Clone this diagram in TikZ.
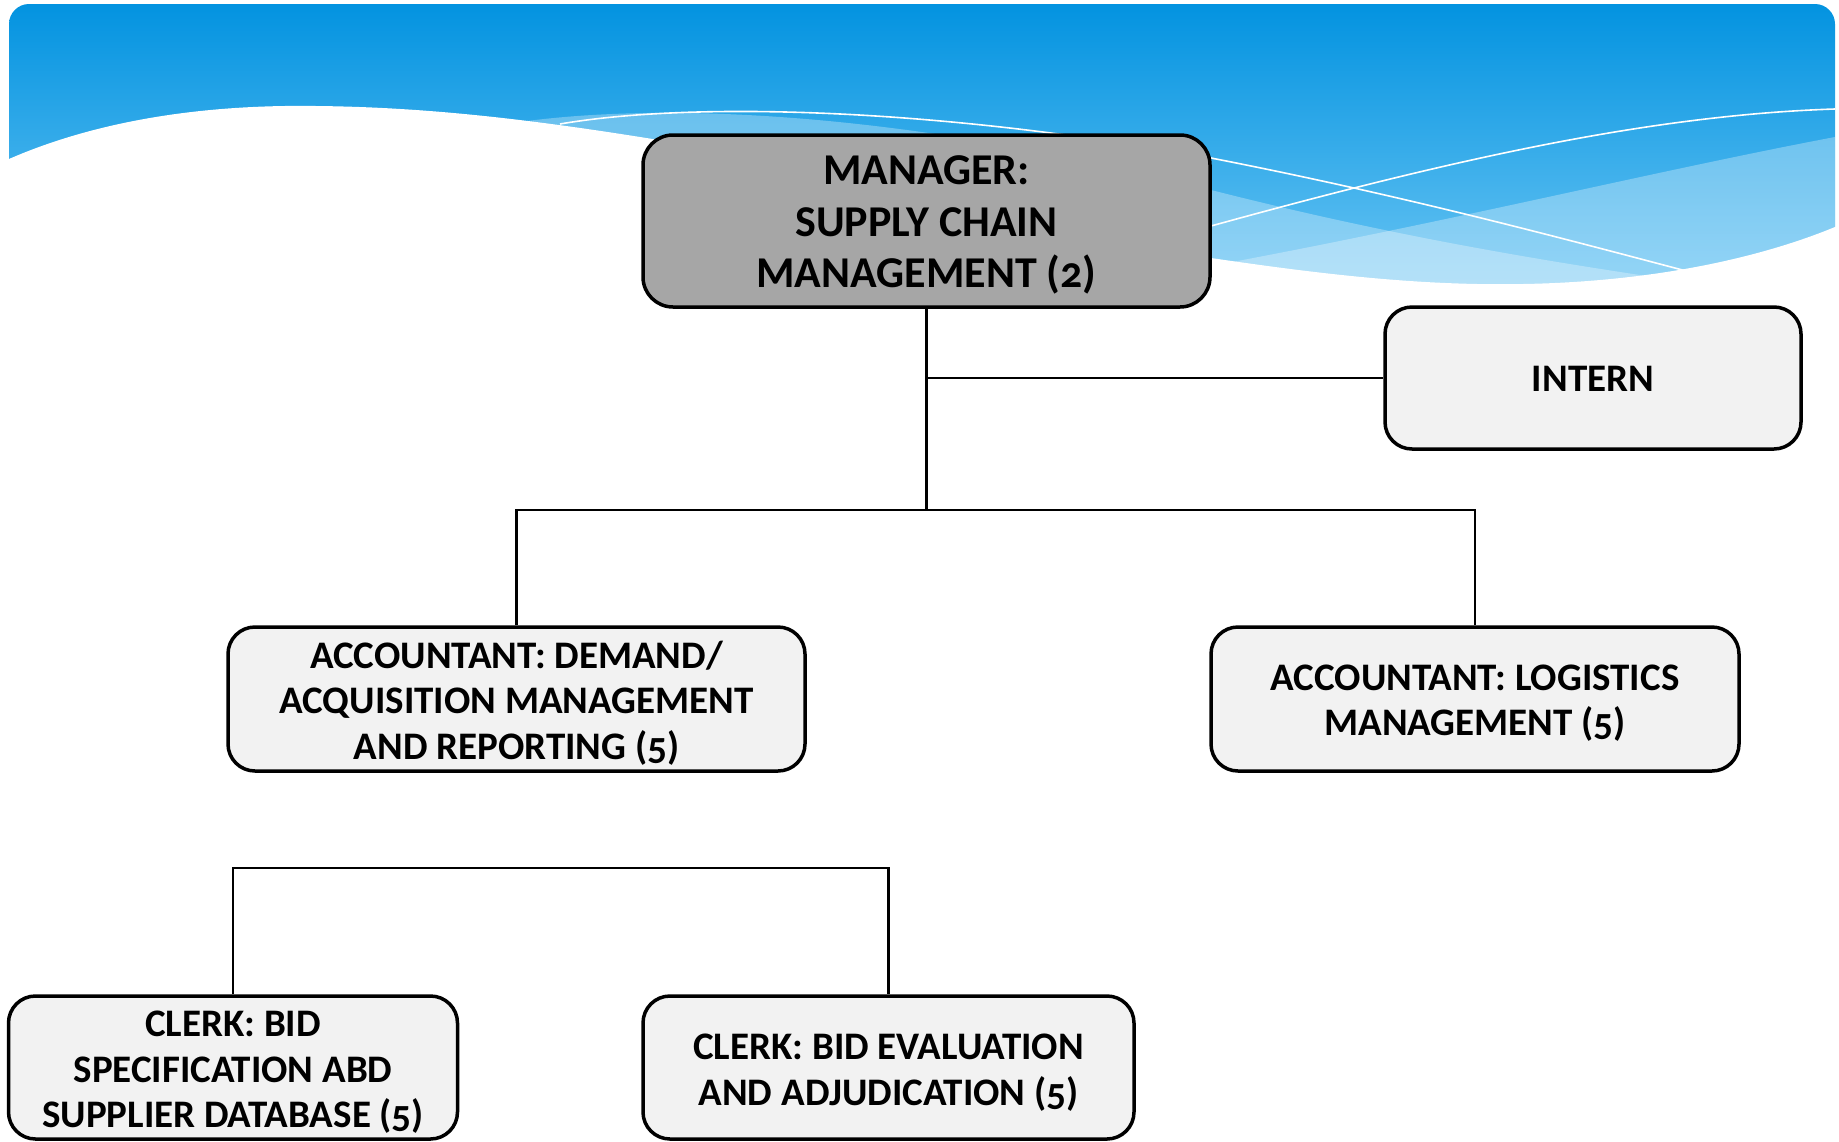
\documentclass[tikz,border=0pt]{standalone}
\usepackage{fontspec}
\setmainfont{Carlito}[Numbers=OldStyle]
\definecolor{hdtop}{HTML}{0393E0}
\definecolor{hdbot}{HTML}{6CC6F4}
\definecolor{mgrfill}{HTML}{A6A6A6}
\definecolor{boxfill}{HTML}{F2F2F2}
\tikzset{
  orgbox/.style={draw=black, line width=3.5pt, rounded corners=27pt, fill=boxfill, inner sep=0pt},
  mgrbox/.style={orgbox, fill=mgrfill, rounded corners=30pt},
  boxtext/.style={align=center, inner sep=0pt, font=\fontsize{39}{45.5}\selectfont\bfseries},
  mgrtext/.style={boxtext, font=\fontsize{44}{51.6}\selectfont\bfseries},
  conn/.style={draw=black, line width=2.2pt},
  band/.style={fill=white, fill opacity=0.3},
  wline/.style={draw=white, line width=1.6pt}
}
\begin{document}
\begin{tikzpicture}[x=1pt,y=-1pt]
\useasboundingbox (0,0) rectangle (1839,1141);
% header
\shade[top color=hdtop, bottom color=hdbot]
  (9,300) -- (9,24) .. controls (9,13) and (18,4) .. (29,4) -- (1815,4)
  .. controls (1826,4) and (1835,13) .. (1835,24) -- (1835,300) -- cycle;
% light bands
\path[band] (500,125) .. controls (650,100) and (900,110) .. (1211,190)
  .. controls (1400,238) and (1550,262) .. (1700,284) -- (1700,300) -- (500,300) -- cycle;
\path[band] (1835,137) .. controls (1650,172) and (1450,222) .. (1200,268)
  -- (1200,300) -- (1835,300) -- cycle;
% white lines
\draw[wline] (560,124) .. controls (700,100) and (950,110) .. (1211,158)
  .. controls (1400,195) and (1550,235) .. (1690,272);
\draw[wline] (1835,109) .. controls (1650,115) and (1450,160) .. (1211,226)
  -- (1100,262);
% white wave region
\fill[white] (0,163) -- (9,159) .. controls (80,128) and (180,104) .. (316,106)
  .. controls (420,107) and (520,118) .. (640,137)
  .. controls (800,162) and (1000,222) .. (1211,258)
  .. controls (1320,274) and (1420,286) .. (1523,284)
  .. controls (1640,282) and (1750,262) .. (1835,227)
  -- (1839,225) -- (1839,320) -- (0,320) -- cycle;
% boxes
\node[mgrbox, minimum width=567pt, minimum height=172pt] (mgr) at (926.5,221) {};
\node[orgbox, minimum width=416pt, minimum height=142pt] (intern) at (1593,378) {};
\node[orgbox, minimum width=577pt, minimum height=144pt] (dam) at (516.5,699) {};
\node[orgbox, minimum width=528pt, minimum height=144pt] (log) at (1475,699) {};
\node[orgbox, minimum width=449pt, minimum height=143pt] (spec) at (233,1067.5) {};
\node[orgbox, minimum width=491pt, minimum height=143pt] (eval) at (888.5,1067.5) {};
% texts
\node[mgrtext] (mgrt) at ([yshift=-4pt]mgr.center) {MANAGER:\\SUPPLY CHAIN\\MANAGEMENT (2)};
\node[boxtext] (internt) at ([yshift=-1pt]intern.center) {INTERN};
\node[boxtext] (damt) at ([yshift=-4pt]dam.center) {ACCOUNTANT: DEMAND/\\ACQUISITION MANAGEMENT\\AND REPORTING (5)};
\node[boxtext] (logt) at ([yshift=-4pt]log.center) {ACCOUNTANT: LOGISTICS\\MANAGEMENT (5)};
\node[boxtext] (spect) at ([yshift=-5pt]spec.center) {CLERK: BID\\SPECIFICATION ABD\\SUPPLIER DATABASE (5)};
\node[boxtext] (evalt) at ([yshift=-5pt]eval.center) {CLERK: BID EVALUATION\\AND ADJUDICATION (5)};
% connectors
\coordinate (jb) at (926.5,510);
\coordinate (jc) at (0,868);
\draw[conn] (mgr.south) -- (jb);
\draw[conn] (mgr.south |- intern.west) -- (intern.west);
\draw[conn] (dam.north) -- (dam.north |- jb) -- (log.north |- jb) -- (log.north);
\draw[conn] (spec.north) -- (spec.north |- jc) -- (eval.north |- jc) -- (eval.north);
\end{tikzpicture}
\end{document}
